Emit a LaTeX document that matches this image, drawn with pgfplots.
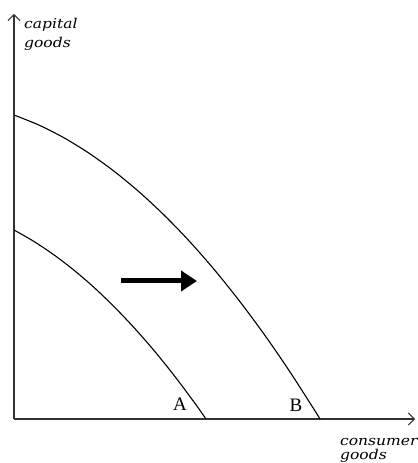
\documentclass[border=0pt]{standalone}
\usepackage{pgfplots}
\pgfplotsset{compat=1.18}
\usetikzlibrary{arrows.meta}
\usepackage{fontspec}
\setmainfont{Liberation Serif}
\newfontfamily\lblfont[FakeStretch=1.15]{DejaVu Serif}

\begin{document}
\begin{tikzpicture}
\begin{axis}[
    scale only axis,
    width=401pt, height=405pt,
    xmin=0, xmax=401,
    ymin=0, ymax=405,
    axis lines=left,
    axis line style={line width=1.3pt, black!80,
        -{Straight Barb[length=6pt,width=12pt,line width=1pt]}},
    xtick=\empty, ytick=\empty,
    clip=false,
]
% page frame (reference is 417x463 px)
\path (axis cs:-14,-44) rectangle (axis cs:403,419);

% curve A (inner frontier)
\addplot[black, line width=1.1pt, smooth] coordinates {
    (0,189) (20,177.5) (40,164.1) (60,148.8) (80,131.6) (100,112.4)
    (120,91.4) (140,68.5) (160,43.7) (180,17.0) (192,0)
};
% curve B (outer frontier)
\addplot[black, line width=1.1pt, smooth] coordinates {
    (0,304) (25,293.9) (50,281.2) (75,265.8) (100,247.8) (125,227.2)
    (150,204.0) (175,178.2) (200,149.7) (225,118.6) (250,84.9)
    (275,48.6) (300,9.7) (306,0)
};

% shift arrow
\draw[line width=5pt, -{Triangle[length=16pt,width=20pt]}]
    (axis cs:107,138) -- (axis cs:183,138);

\node[anchor=base, font=\fontsize{19}{19}\selectfont] at (axis cs:166,9) {A};
\node[anchor=base, font=\fontsize{19}{19}\selectfont] at (axis cs:282,8) {B};

\node[anchor=base west, inner sep=0pt, font=\lblfont\itshape\fontsize{13.5}{13.5}\selectfont] at (axis cs:10,390) {capital};
\node[anchor=base west, inner sep=0pt, font=\lblfont\itshape\fontsize{13.5}{13.5}\selectfont] at (axis cs:10,371) {goods};
\node[anchor=base west, inner sep=0pt, font=\lblfont\itshape\fontsize{13.5}{13.5}\selectfont] at (axis cs:326,-26) {consumer};
\node[anchor=base west, inner sep=0pt, font=\lblfont\itshape\fontsize{13.5}{13.5}\selectfont] at (axis cs:326,-40) {goods};
\end{axis}
\end{tikzpicture}
\end{document}
